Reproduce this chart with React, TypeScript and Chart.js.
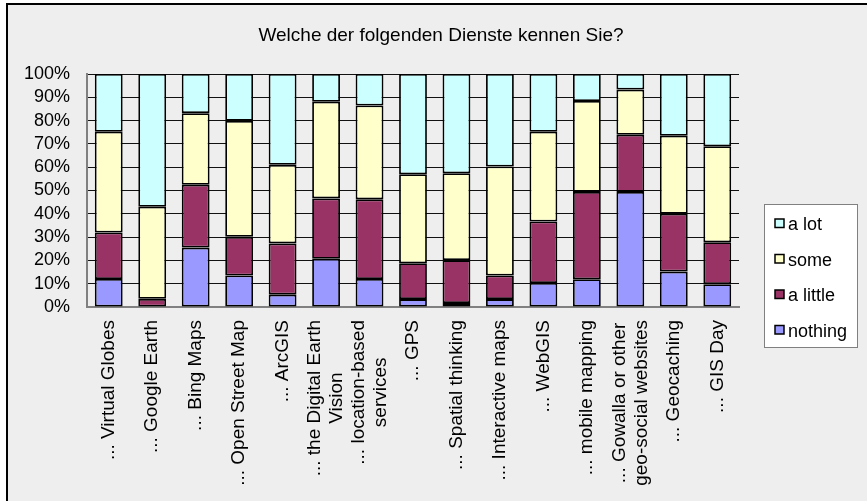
import React, { useEffect, useRef } from "react";
import { Chart, registerables } from "chart.js";

Chart.register(...registerables);

const chartTitle = "Welche der folgenden Dienste kennen Sie?";

const categories: string[][] = [
  ["... Virtual Globes"],
  ["... Google Earth"],
  ["... Bing Maps"],
  ["... Open Street Map"],
  ["... ArcGIS"],
  ["... the Digital Earth", "Vision"],
  ["... location-based", "services"],
  ["... GPS"],
  ["... Spatial thinking"],
  ["... Interactive maps"],
  ["... WebGIS"],
  ["... mobile mapping"],
  ["... Gowalla or other", "geo-social websites"],
  ["... Geocaching"],
  ["... GIS Day"],
];

const seriesNames = ["nothing", "a little", "some", "a lot"];
const seriesColors = ["#9999FF", "#993366", "#FFFFCC", "#CCFFFF"];

const nothing = [12, 0, 25.5, 13.5, 5.3, 20.7, 12, 3.4, 1.7, 3.4, 10.3, 11.9, 49.4, 15.2, 9.8];
const aLittle = [20, 3.5, 27, 16.6, 22, 25.9, 34.2, 15.4, 18.4, 10.1, 26.4, 37.5, 24.5, 24.8, 18];
const some = [43.2, 39.5, 30.7, 49.8, 33.7, 41.5, 40.3, 38.2, 37.3, 46.8, 38.5, 39, 19.4, 33.5, 41.2];
const aLot = [24.8, 57, 16.8, 20.1, 39, 11.9, 13.5, 43, 42.6, 39.7, 24.8, 11.6, 6.7, 26.5, 31];

const yMin = 0;
const yMax = 100;
const yStep = 10;

const FONT = '"Liberation Sans", Arial, Helvetica, sans-serif';

export default function App() {
  const canvasRef = useRef<HTMLCanvasElement | null>(null);

  useEffect(() => {
    const canvas = canvasRef.current;
    if (!canvas) return;
    const seriesValues = [nothing, aLittle, some, aLot];

    const decor = {
      id: "decor",
      beforeDraw(chart: any) {
        const ctx = chart.ctx as CanvasRenderingContext2D;
        const W = chart.width;
        const H = chart.height;
        ctx.save();
        ctx.fillStyle = "#ffffff";
        ctx.fillRect(0, 0, W, H);
        ctx.fillStyle = "#eeeeee";
        ctx.fillRect(7, 4, W - 7, H - 4);
        ctx.fillStyle = "#000000";
        ctx.fillRect(6, 3, W - 6, 2);
        ctx.fillRect(6, 3, 2, H - 3);
        ctx.restore();
      },
      afterDraw(chart: any) {
        const ctx = chart.ctx as CanvasRenderingContext2D;
        ctx.save();
        // title
        ctx.fillStyle = "#000";
        ctx.font = `19px ${FONT}`;
        ctx.textAlign = "center";
        ctx.textBaseline = "alphabetic";
        ctx.fillText(chartTitle, 441, 41);

        // x labels
        const xs = chart.scales.x;
        const labels = chart.data.labels as string[][];
        ctx.font = `19px ${FONT}`;
        const lineH = 22;
        const yTop = 320;
        labels.forEach((lines, i) => {
          const x = xs.getPixelForTick(i);
          const widths = lines.map((l) => ctx.measureText(l).width);
          const maxW = Math.max(...widths);
          lines.forEach((line, j) => {
            const lx = x + (j - (lines.length - 1) / 2) * lineH;
            ctx.save();
            ctx.translate(lx, yTop + maxW / 2);
            ctx.rotate(-Math.PI / 2);
            ctx.textAlign = "center";
            ctx.textBaseline = "middle";
            ctx.fillText(line, 0, 0);
            ctx.restore();
          });
        });

        // legend
        const lx = 764;
        const ly = 204;
        const lw = 93;
        const lh = 143;
        ctx.fillStyle = "#ffffff";
        ctx.fillRect(lx, ly, lw, lh);
        ctx.strokeStyle = "#808080";
        ctx.lineWidth = 1;
        ctx.strokeRect(lx + 0.5, ly + 0.5, lw, lh);
        const ds = chart.data.datasets;
        ctx.font = `18px ${FONT}`;
        ctx.textAlign = "left";
        ctx.textBaseline = "alphabetic";
        for (let k = 0; k < ds.length; k++) {
          const d = ds[ds.length - 1 - k];
          const base = 230 + k * 35.5;
          ctx.fillStyle = d.backgroundColor;
          ctx.fillRect(775, base - 11, 9, 8.5);
          ctx.strokeStyle = "#000";
          ctx.lineWidth = 1.5;
          ctx.strokeRect(775, base - 11, 9, 8.5);
          ctx.fillStyle = "#000";
          ctx.fillText(d.label, 788, base);
        }
        ctx.restore();
      },
    };

    const chart = new Chart(canvas, {
      type: "bar",
      data: {
        labels: categories,
        datasets: seriesNames.map((name, i) => ({
          label: name,
          data: seriesValues[i],
          backgroundColor: seriesColors[i],
          borderColor: "#000000",
          borderWidth: 1.8,
          borderSkipped: false,
          barPercentage: 0.64,
          categoryPercentage: 1,
        })),
      },
      options: {
        animation: false,
        responsive: true,
        maintainAspectRatio: false,
        devicePixelRatio: 1,
        layout: { padding: { left: 8, top: 74, right: 128, bottom: 0 } },
        plugins: {
          legend: { display: false },
          title: { display: false },
          tooltip: { enabled: false },
        },
        scales: {
          x: {
            stacked: true,
            grid: { display: false, drawTicks: false },
            border: { display: true, color: "#808080", width: 2 },
            ticks: { display: false },
            afterFit: (s: any) => {
              s.height = 194;
            },
          },
          y: {
            stacked: true,
            min: yMin,
            max: yMax,
            ticks: {
              stepSize: yStep,
              autoSkip: false,
              callback: (v: any) => `${v}%`,
              color: "#000",
              font: { family: FONT, size: 18 },
              padding: 17,
            },
            grid: { color: "#111111", lineWidth: 1, drawTicks: false },
            border: { display: true, color: "#808080", width: 2 },
            afterFit: (s: any) => {
              s.width = 79;
            },
          },
        },
      },
      plugins: [decor],
    });

    return () => chart.destroy();
  }, []);

  return (
    <div style={{ position: "absolute", left: 0, top: 0, width: 867, height: 501 }}>
      <canvas ref={canvasRef} />
    </div>
  );
}
